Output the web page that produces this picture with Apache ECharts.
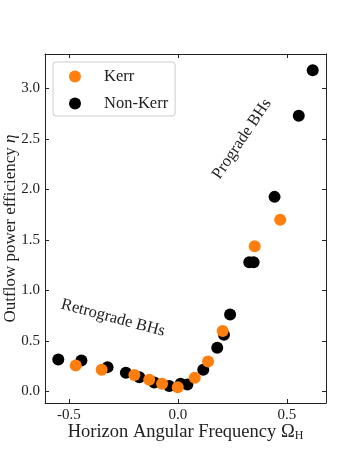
<!DOCTYPE html>
<html>
<head>
<meta charset="utf-8">
<script src="https://cdn.jsdelivr.net/npm/echarts@6.0.0/dist/echarts.min.js"></script>
<style>
  html, body { margin: 0; padding: 0; background: #fff; }
  #chart { width: 362px; height: 453px; }
</style>
</head>
<body>
<div id="chart"></div>
<script>
// horizon angular frequency vs outflow power efficiency
const kerr = [
  [-0.469, 0.258], [-0.350, 0.215], [-0.200, 0.162], [-0.132, 0.116],
  [-0.073, 0.076], [-0.001, 0.043], [0.077, 0.136], [0.138, 0.297],
  [0.205, 0.598], [0.352, 1.437], [0.469, 1.700]
]
const nonKerr = [
  [-0.549, 0.317], [-0.443, 0.307], [-0.323, 0.241], [-0.239, 0.185],
  [-0.177, 0.142], [-0.109, 0.090], [-0.040, 0.055], [0.012, 0.076],
  [0.043, 0.069], [0.116, 0.215], [0.180, 0.433], [0.211, 0.562],
  [0.239, 0.763], [0.327, 1.278], [0.347, 1.278], [0.443, 1.926],
  [0.554, 2.730], [0.618, 3.180]
]
const xTicks = [-0.5, 0, 0.5]
const yTicks = [0, 0.5, 1.0, 1.5, 2.0, 2.5, 3.0]

const serif = '"Liberation Serif", "DejaVu Serif", serif'
const ink = '#222'

const fmt = v => v.toFixed(1)

const frameX = (pos, show) => ({
  type: 'value',
  position: pos,
  min: -0.61,
  max: 0.679,
  axisLine: { show: true, onZero: false, lineStyle: { color: ink, width: 1 } },
  axisTick: { show: true, inside: true, length: 4, customValues: xTicks, lineStyle: { color: ink } },
  axisLabel: { show: show, customValues: xTicks, formatter: fmt, fontFamily: serif, fontSize: 15, color: ink, margin: 5 },
  splitLine: { show: false }
})
const frameY = (pos, show) => ({
  type: 'value',
  position: pos,
  min: -0.114,
  max: 3.34,
  axisLine: { show: true, onZero: false, lineStyle: { color: ink, width: 1 } },
  axisTick: { show: true, inside: true, length: 4, customValues: yTicks, lineStyle: { color: ink } },
  axisLabel: { show: show, customValues: yTicks, formatter: fmt, fontFamily: serif, fontSize: 15, color: ink, margin: 5 },
  splitLine: { show: false }
})

const xMain = frameX('bottom', true)
xMain.name = '{a|Horizon Angular Frequency Ω}{s|H}'
xMain.nameLocation = 'middle'
xMain.nameGap = 19
xMain.nameMoveOverlap = false
xMain.nameTextStyle = {
  color: ink,
  rich: {
    a: { fontFamily: serif, fontSize: 18.5, color: ink },
    s: { fontFamily: serif, fontSize: 12, color: ink, verticalAlign: 'bottom', padding: [8, 0, 0, 0] }
  }
}

const yMain = frameY('left', true)
yMain.name = '{a|Outflow power efficiency }{i|η}'
yMain.nameLocation = 'middle'
yMain.nameRotate = 90
yMain.nameGap = 26
yMain.nameMoveOverlap = false
yMain.nameTextStyle = {
  color: ink,
  rich: {
    a: { fontFamily: serif, fontSize: 17, color: ink },
    i: { fontFamily: serif, fontSize: 17, fontStyle: 'italic', color: ink }
  }
}

const chart = echarts.init(document.getElementById('chart'))
chart.setOption({
  backgroundColor: '#fff',
  animation: false,
  grid: { left: 45, top: 54, right: 36, bottom: 50, containLabel: false, outerBoundsMode: 'none' },
  xAxis: [xMain, frameX('top', false)],
  yAxis: [yMain, frameY('right', false)],
  legend: {
    orient: 'vertical',
    left: 53,
    top: 62,
    data: ['Kerr', 'Non-Kerr'],
    icon: 'circle',
    itemWidth: 12,
    itemHeight: 12,
    itemGap: 10,
    padding: [6, 7, 4, 16],
    borderColor: '#ccc',
    borderWidth: 1,
    borderRadius: 3,
    backgroundColor: 'rgba(255,255,255,0.8)',
    textStyle: { fontFamily: serif, fontSize: 16.5, color: ink, padding: [0, 0, 0, 18], lineHeight: 12 }
  },
  series: [
    {
      name: 'Non-Kerr',
      type: 'scatter',
      data: nonKerr,
      symbolSize: 12,
      itemStyle: { color: '#000', opacity: 1 }
    },
    {
      name: 'Kerr',
      type: 'scatter',
      data: kerr,
      symbolSize: 12,
      itemStyle: { color: '#ff7f0e', opacity: 1 }
    }
  ],
  graphic: [
    {
      type: 'text',
      x: 113,
      y: 318,
      rotation: -15 * Math.PI / 180,
      style: { text: 'Retrograde BHs', font: '16.5px ' + serif, fill: ink, align: 'center', verticalAlign: 'middle' }
    },
    {
      type: 'text',
      x: 242,
      y: 139,
      rotation: 56 * Math.PI / 180,
      style: { text: 'Prograde BHs', font: '16.5px ' + serif, fill: ink, align: 'center', verticalAlign: 'middle' }
    }
  ]
})
</script>
</body>
</html>
